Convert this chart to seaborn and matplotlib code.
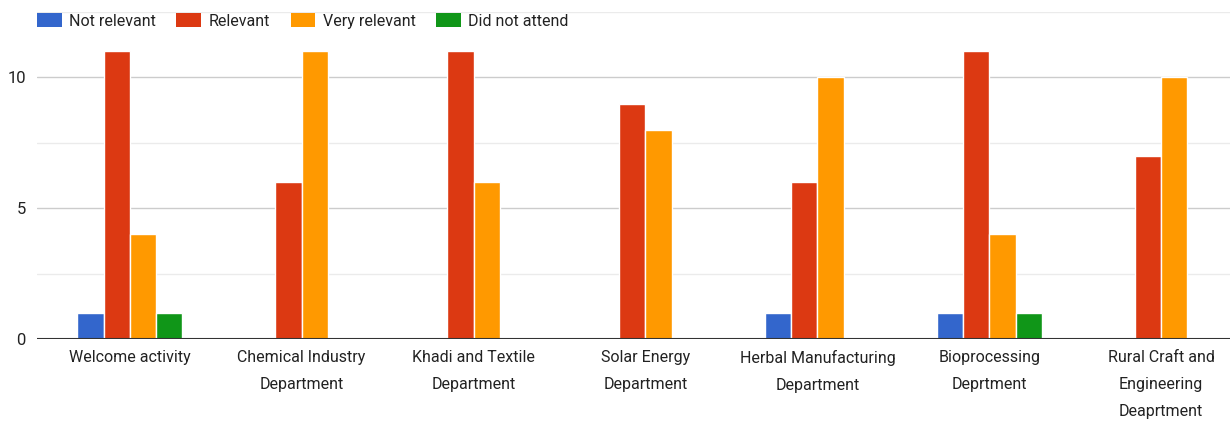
import pandas as pd
import matplotlib.pyplot as plt
import seaborn as sns
from matplotlib.patches import Patch
from matplotlib.ticker import MultipleLocator

# data
categories = ["Welcome activity", "Chemical Industry\nDepartment", "Khadi and Textile\nDepartment",
              "Solar Energy\nDepartment", "Herbal Manufacturing\nDepartment", "Bioprocessing\nDeprtment",
              "Rural Craft and\nEngineering\nDeaprtment"]
series = ["Not relevant", "Relevant", "Very relevant", "Did not attend"]
not_relevant = [1, 0, 0, 0, 1, 1, 0]
relevant = [11, 6, 11, 9, 6, 11, 7]
very_relevant = [4, 11, 6, 8, 10, 4, 10]
did_not_attend = [1, 0, 0, 0, 0, 1, 0]
colors = ["#3366cc", "#dc3912", "#ff9900", "#109618"]

rows = []
for name, vals in zip(series, [not_relevant, relevant, very_relevant, did_not_attend]):
    for c, v in zip(categories, vals):
        rows.append({"cat": c, "series": name, "count": v})
df = pd.DataFrame(rows)

sns.set_style("white")
plt.rcParams['font.family'] = ['Roboto', 'DejaVu Sans']

fig = plt.figure(figsize=(12.3, 4.23), dpi=100)
ax = fig.add_axes([0.030, 0.1986, 0.970, 0.773])
sns.barplot(data=df, x="cat", y="count", hue="series", hue_order=series, order=categories,
            palette=colors, width=0.61, edgecolor="white", linewidth=1, saturation=1,
            legend=False, ax=ax, zorder=3)

ax.set_xlim(-0.54, 6.40)
ax.set_ylim(0, 12.5)
ax.yaxis.set_major_locator(MultipleLocator(5))
ax.yaxis.set_minor_locator(MultipleLocator(2.5))
ax.grid(axis='y', which='major', color='#cccccc', linewidth=1, zorder=0)
ax.grid(axis='y', which='minor', color='#ebebeb', linewidth=1, zorder=0)
ax.axhline(0, color='#333333', linewidth=1.5, zorder=4)
for s in ax.spines.values():
    s.set_visible(False)
ax.set_xlabel("")
ax.set_ylabel("")
ax.tick_params(axis='both', which='both', length=0, labelsize=11.5, labelcolor='#222222')
ax.tick_params(axis='y', labelsize=12, pad=8)
ax.tick_params(axis='x', pad=8)
for lbl in ax.get_xticklabels():
    lbl.set_linespacing(2.0)
    lbl.set_va('top')

handles = [Patch(facecolor=c, edgecolor='none') for c in colors]
fig.legend(handles, series, loc='center left', bbox_to_anchor=(0.030, 1 - 21 / 423), ncol=4,
           frameon=False, fontsize=11.5, handlelength=1.55, handleheight=0.9,
           handletextpad=0.45, columnspacing=1.3, borderpad=0, borderaxespad=0,
           labelcolor='#222222')

plt.savefig("out.png", dpi=100)
plt.close()
